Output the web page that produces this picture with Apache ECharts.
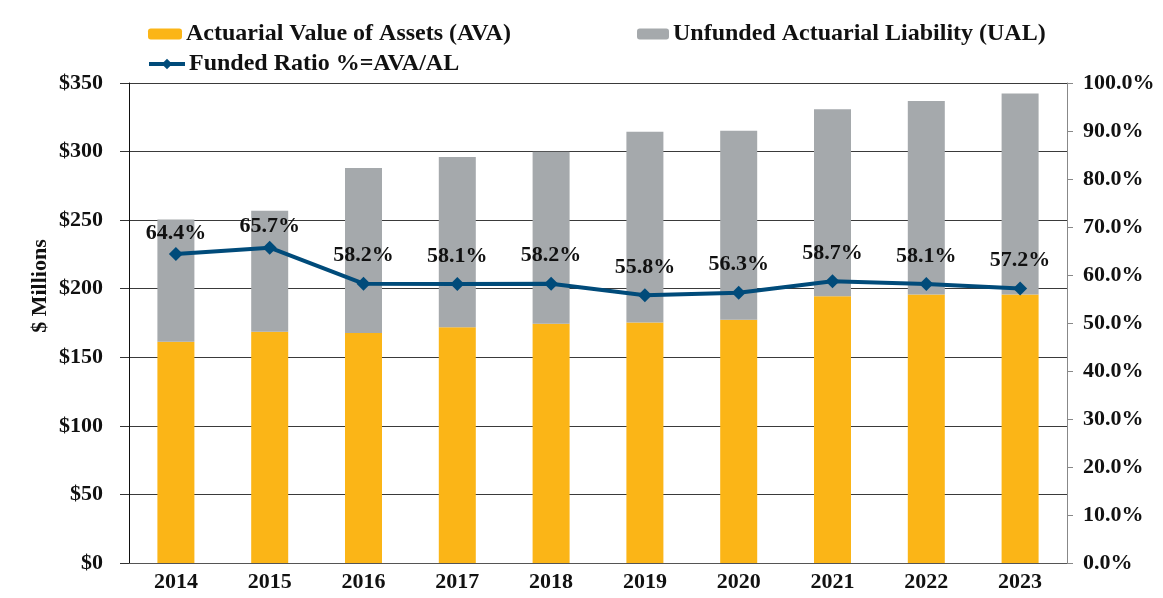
<!DOCTYPE html>
<html><head><meta charset="utf-8">
<script src="https://cdn.jsdelivr.net/npm/echarts@6/dist/echarts.min.js"></script>
<style>html,body{margin:0;padding:0;background:#fff}#c{width:1163px;height:598px}</style>
</head><body><div id="c"></div>
<script>
const years = ['2014','2015','2016','2017','2018','2019','2020','2021','2022','2023'];
const ava = [161.3, 168.7, 167.7, 171.9, 174.5, 175.4, 177.4, 194.5, 195.7, 195.8];
const ual = [89.2, 88.1, 120.3, 124.1, 125.3, 139.0, 137.7, 136.4, 141.2, 146.5];
const fundedRatio = [64.4, 65.7, 58.2, 58.1, 58.2, 55.8, 56.3, 58.7, 58.1, 57.2];
const leftTicks = ['$0','$50','$100','$150','$200','$250','$300','$350'];

const font = '"Liberation Serif","Times New Roman",serif';
const chart = echarts.init(document.getElementById('c'));
const legendText = {fontFamily: font, fontWeight: 'bold', fontSize: 24, color: '#111', padding: [0, 0, 0, -1]};
chart.setOption({
  animation: false,
  grid: {left: 129, right: 96, top: 83, bottom: 35},
  legend: [
    {data: ['Actuarial Value of Assets (AVA)'], left: 143, top: 17, itemWidth: 34, itemHeight: 11, textStyle: legendText},
    {data: ['Unfunded Actuarial Liability (UAL)'], left: 632, top: 17, itemWidth: 32, itemHeight: 11, textStyle: legendText},
    {data: ['Funded Ratio %=AVA/AL'], left: 142, top: 47, itemWidth: 36, itemHeight: 13,
      lineStyle: {width: 4}, textStyle: legendText}
  ],
  graphic: [{
    type: 'text', rotation: Math.PI / 2, x: 40, y: 286,
    style: {text: '$ Millions', font: 'bold 22px ' + font, fill: '#111', align: 'center', verticalAlign: 'middle'}
  }],
  xAxis: {
    type: 'category', data: years,
    axisLine: {lineStyle: {color: '#555', width: 1}},
    axisTick: {show: false},
    axisLabel: {fontFamily: font, fontWeight: 'bold', fontSize: 22, color: '#111', margin: 8}
  },
  yAxis: [
    {
      type: 'value', min: 0, max: 350, interval: 50,
      axisLine: {show: true, lineStyle: {color: '#111'}},
      axisTick: {show: true, inside: false, length: 9, lineStyle: {color: '#333'}},
      splitLine: {lineStyle: {color: '#3a3a3a', width: 1}},
      axisLabel: {fontFamily: font, fontWeight: 'bold', fontSize: 22, color: '#111', margin: 26,
        formatter: (v) => leftTicks[Math.round(v / 50)]}
    },
    {
      type: 'value', min: 0, max: 100, interval: 10, position: 'right',
      axisLine: {show: true, lineStyle: {color: '#888'}},
      axisTick: {show: true, length: 6, lineStyle: {color: '#888'}},
      splitLine: {show: false},
      axisLabel: {fontFamily: font, fontWeight: 'bold', fontSize: 22, color: '#111', margin: 16,
        formatter: (v) => v.toFixed(1) + '%'}
    }
  ],
  series: [
    {name: 'Actuarial Value of Assets (AVA)', type: 'bar', stack: 's', data: ava, barWidth: 37,
      itemStyle: {color: '#FBB517'}},
    {name: 'Unfunded Actuarial Liability (UAL)', type: 'bar', stack: 's', data: ual, barWidth: 37,
      itemStyle: {color: '#A5A9AC'}},
    {name: 'Funded Ratio %=AVA/AL', type: 'line', yAxisIndex: 1,
      data: fundedRatio.map((v, i) => ({value: v, label: {distance: i < 2 ? 3 : 10}})),
      symbol: 'diamond', symbolSize: 14,
      lineStyle: {color: '#004B7A', width: 4},
      itemStyle: {color: '#004B7A'},
      label: {show: true, position: 'top', fontFamily: font, fontWeight: 'bold', fontSize: 22, color: '#111',
        formatter: (p) => p.value.toFixed(1) + '%'},
      z: 5}
  ]
});
</script></body></html>
